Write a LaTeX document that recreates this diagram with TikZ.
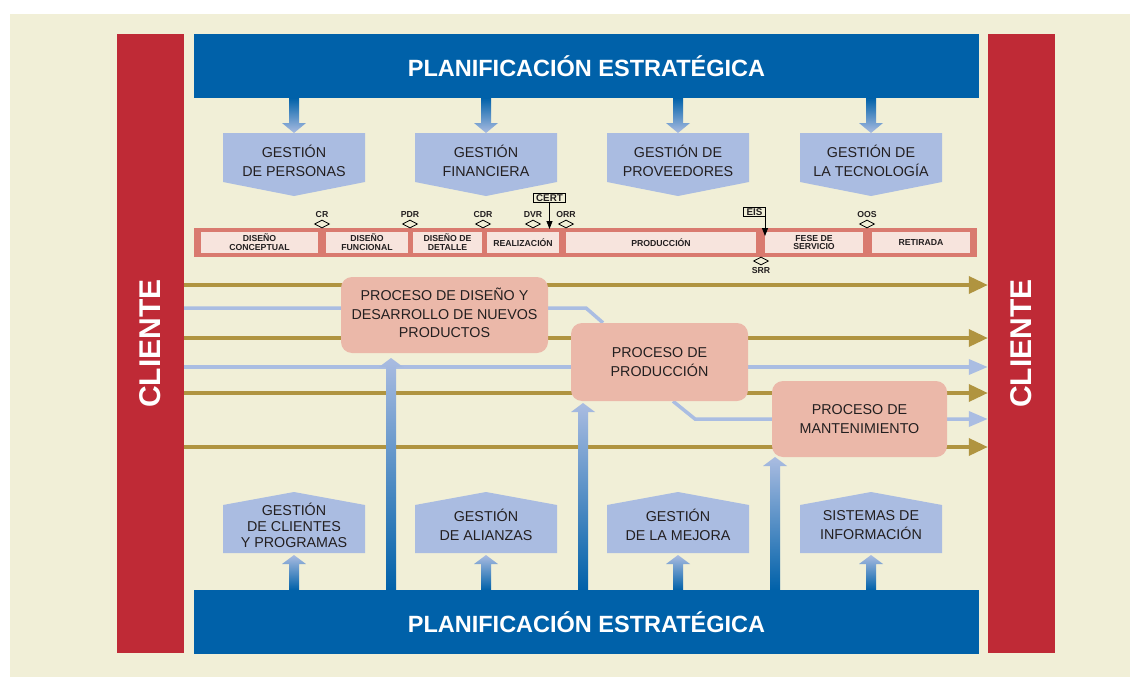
\documentclass[tikz,border=0pt]{standalone}
\usepackage{fontspec}
\setmainfont{Liberation Sans}
\usetikzlibrary{arrows.meta,positioning,shapes.geometric}
\definecolor{cream}{HTML}{F1EFD7}
\definecolor{planblue}{HTML}{0061A9}
\definecolor{clired}{HTML}{BF2A36}
\definecolor{pentblue}{HTML}{AABCE1}
\definecolor{gold}{HTML}{B09440}
\definecolor{flowblue}{HTML}{AABDE2}
\definecolor{procfill}{HTML}{EBB8A9}
\definecolor{lcred}{HTML}{D97A6F}
\definecolor{lcpink}{HTML}{F7E4DD}
\definecolor{ink}{HTML}{231F20}
\pgfdeclarelayer{bg}
\pgfdeclarelayer{flows}
\pgfsetlayers{bg,flows,main}

\begin{document}
\begin{tikzpicture}[x=1pt,y=-1pt,
  bar/.style={fill=planblue,minimum width=785pt,minimum height=64pt,inner sep=0pt,text=white,font=\bfseries\fontsize{23.5}{26}\selectfont},
  column/.style={fill=clired,minimum width=67pt,minimum height=619pt,inner sep=0pt},
  clitxt/.style={rotate=90,text=white,font=\bfseries\fontsize{30}{30}\selectfont},
  gtxt/.style={align=center,text=ink,font=\fontsize{14.3}{18.5}\selectfont},
  proc/.style={fill=procfill,rounded corners=11pt,align=center,text=ink,font=\fontsize{14.3}{18.5}\selectfont,inner sep=0pt},
  phase/.style={fill=lcpink,minimum height=21pt,inner sep=0pt,align=center,text=ink,font=\bfseries\fontsize{8.7}{8.9}\selectfont},
  ms/.style={diamond,draw=black,fill=cream,line width=0.8pt,minimum width=15pt,minimum height=8pt,inner sep=0pt},
  mslbl/.style={inner sep=1pt,text=ink,font=\bfseries\fontsize{8.7}{9}\selectfont},
  tag/.style={draw=black,line width=0.8pt,inner xsep=3pt,inner ysep=1pt,text=ink,font=\bfseries\fontsize{9.8}{10}\selectfont},
  gflow/.style={gold,line width=3.5pt,-{Triangle[length=19pt,width=17pt]}},
  bflow/.style={flowblue,line width=3.5pt},
  bhead/.style={-{Triangle[length=19pt,width=15pt]}},
  tip/.style={draw=black,line width=0.8pt,-{Triangle[length=8pt,width=6pt]}}]

  \useasboundingbox (0,0) rectangle (1130,677);
  \begin{pgfonlayer}{bg}
    \fill[white] (0,0) rectangle (1130,677);
    \fill[cream] (10,14) rectangle (1130,677);
  \end{pgfonlayer}

  % cliente columns and planning bars
  \node[column] (colL) at (150.5,343.5) {};
  \node[clitxt] (cliL) at (colL) {CLIENTE};
  \node[column] (colR) at (1021.5,343.5) {};
  \node[clitxt] (cliR) at (colR) {CLIENTE};
  \node[bar] (planT) at (586.5,66) {PLANIFICACIÓN ESTRATÉGICA};
  \node[bar] (planB) at (586.5,622) {PLANIFICACIÓN ESTRATÉGICA};

  % support processes
  \foreach \cx/\nm/\txt in {294/gper/{GESTIÓN\\DE PERSONAS},486/gfin/{GESTIÓN\\FINANCIERA},678/gpro/{GESTIÓN DE\\PROVEEDORES},871/gtec/{GESTIÓN DE\\LA TECNOLOGÍA}} {
    \shade[top color=planblue,bottom color=pentblue] (\cx-5,98) -- (\cx+5,98) -- (\cx+5,123) -- (\cx+12,123) -- (\cx,133) -- (\cx-12,123) -- (\cx-5,123) -- cycle;
    \fill[pentblue] (\cx-71,133) -- (\cx+71,133) -- (\cx+71,182) -- (\cx,196) -- (\cx-71,182) -- cycle;
    \node[gtxt] (\nm) at (\cx,161) {\txt};
  }
  \foreach \cx/\nm/\txt in {294/gcli/{GESTIÓN\\[-2.5pt]DE CLIENTES\\[-2.5pt]Y PROGRAMAS},486/gali/{GESTIÓN\\DE ALIANZAS},678/gmej/{GESTIÓN\\DE LA MEJORA},871/gsis/{SISTEMAS DE\\INFORMACIÓN}} {
    \shade[bottom color=planblue,top color=pentblue] (\cx-5,590) -- (\cx-5,564) -- (\cx-12,564) -- (\cx,555) -- (\cx+12,564) -- (\cx+5,564) -- (\cx+5,590) -- cycle;
    \fill[pentblue] (\cx-71,553) -- (\cx-71,505) -- (\cx,492) -- (\cx+71,505) -- (\cx+71,553) -- cycle;
    \node[gtxt] (\nm) at (\cx,525) {\txt};
  }

  % main processes
  \node[proc,minimum width=207pt,minimum height=76pt] (pdis) at (444.5,315) {};
  \node[proc,fill=none] (pdis-t) at (444.5,313) {PROCESO DE DISEÑO Y\\DESARROLLO DE NUEVOS\\PRODUCTOS};
  \node[proc,minimum width=177pt,minimum height=78pt] (pprod) at (659.5,362) {PROCESO DE\\PRODUCCIÓN};
  \node[proc,minimum width=175pt,minimum height=76pt] (pman) at (859.5,419) {PROCESO DE\\MANTENIMIENTO};

  \begin{pgfonlayer}{flows}
    \foreach \y in {285,338,393,447}
      \draw[gflow] (colL.east |- 0,\y) -- (colR.west |- 0,\y);
    \draw[bflow] (colL.east |- 0,308) -- (586,308) -- (pprod.north -| 603,0);
    \draw[bflow,bhead] (colL.east |- 0,367) -- (colR.west |- 0,367);
    \draw[bflow,bhead] (pprod.south -| 673,0) -- (695,419) -- (colR.west |- 0,419);
  \end{pgfonlayer}

  \foreach \x/\t in {391/358,583/403,775/457}
    \shade[bottom color=planblue,top color=pentblue] (\x-5,590) -- (\x-5,\t+9) -- (\x-12,\t+9) -- (\x,\t) -- (\x+12,\t+9) -- (\x+5,\t+9) -- (\x+5,590) -- cycle;

  % life cycle
  \node[fill=lcred,minimum width=783pt,minimum height=29pt,inner sep=0pt] (lc) at (585.5,242.5) {};
  \foreach \a/\b/\nm/\txt in {201/318/fcon/{DISEÑO\\CONCEPTUAL},326/408/ffun/{DISEÑO\\FUNCIONAL},413/482/fdet/{DISEÑO DE\\DETALLE},487/559/freal/REALIZACIÓN,566/756/fprod/PRODUCCIÓN,765/863/fserv/{FESE DE\\SERVICIO},872/970/fret/RETIRADA}
    \node[phase,minimum width={(\b-\a)*1pt}] (\nm) at ({(\a+\b)/2},242.5) {\txt};

  \foreach \x/\nm/\lbl in {322/cr/CR,410/pdr/PDR,483/cdr/CDR,533/dvr/DVR,566/orr/ORR,867/oos/OOS} {
    \node[ms] (\nm) at (\x,224) {};
    \node[mslbl,above=0.5pt of \nm] (\nm-l) {\lbl};
  }
  \node[ms] (srr) at (761,261) {};
  \node[mslbl,below=0.5pt of srr] (srr-l) {SRR};

  \node[tag] (cert) at (549.5,198) {CERT};
  \coordinate (certtip) at (549.5,229);
  \draw[tip] (cert) -- (certtip);
  \node[tag] (eis) at (754.5,212) {EIS};
  \coordinate (eistip) at (765,236);
  \draw[tip] (eis.south east) -| (eistip);
\end{tikzpicture}
\end{document}
